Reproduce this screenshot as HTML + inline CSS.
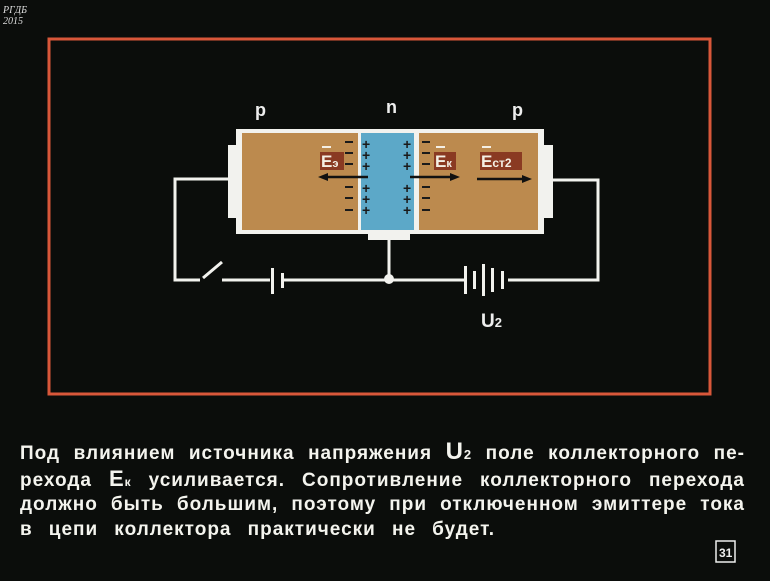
<!DOCTYPE html><html><head><style>
body{margin:0;background:#0b0d0b;width:770px;height:581px;overflow:hidden;position:relative;font-family:"Liberation Sans","DejaVu Sans",sans-serif}
svg{position:absolute;left:0;top:0}
.t{position:absolute;left:20px;width:725px;color:#f4f4ee;font-weight:bold;font-size:19px;letter-spacing:1px;white-space:nowrap;text-align:justify;text-align-last:justify}
</style></head><body>
<svg width="770" height="581">
<rect x="49" y="39" width="661" height="355" fill="none" stroke="#d8573a" stroke-width="3"/>
<text x="3" y="13" fill="#ddd" font-size="10" font-family="Liberation Serif" font-style="italic">РГДБ</text>
<text x="3" y="24" fill="#ddd" font-size="10" font-family="Liberation Serif" font-style="italic">2015</text>
<g fill="#eee" font-size="18" font-weight="bold" font-family="Liberation Sans">
<text x="255" y="116">p</text><text x="386" y="113">n</text><text x="512" y="116">p</text></g>
<g stroke="#f2f2ee" stroke-width="3" fill="none">
<polyline points="228,179 175,179 175,280 200,280"/>
<line x1="203" y1="278" x2="222" y2="262"/>
<line x1="222" y1="280" x2="270" y2="280"/>
<line x1="282" y1="280" x2="465" y2="280"/>
<polyline points="508,280 598,280 598,180 552,180"/>
<line x1="389" y1="240" x2="389" y2="280"/>
</g>
<g fill="#f2f2ee">
<rect x="271" y="268" width="3" height="26"/><rect x="281" y="273" width="3" height="15"/>
<rect x="464" y="266" width="3" height="28"/><rect x="473" y="271" width="3" height="18"/>
<rect x="482" y="264" width="3" height="32"/><rect x="491" y="268" width="3" height="24"/><rect x="501" y="271" width="3" height="18"/>
<circle cx="389" cy="279" r="5"/>
<rect x="228" y="145" width="12" height="73"/><rect x="541" y="145" width="12" height="73"/>
<rect x="368" y="230" width="42" height="10"/>
<rect x="236" y="129" width="308" height="105"/>
</g>
<rect x="242" y="133" width="116" height="97" fill="#bc8a4e"/>
<rect x="361" y="133" width="53" height="97" fill="#5ca8c8"/>
<rect x="419" y="133" width="119" height="97" fill="#bc8a4e"/>
<g fill="#1a1a1a">
<rect x="345" y="141" width="8" height="2"/><rect x="345" y="152" width="8" height="2"/><rect x="345" y="163" width="8" height="2"/><rect x="345" y="186" width="8" height="2"/><rect x="345" y="197" width="8" height="2"/><rect x="345" y="209" width="8" height="2"/>
<rect x="422" y="141" width="8" height="2"/><rect x="422" y="152" width="8" height="2"/><rect x="422" y="163" width="8" height="2"/><rect x="422" y="186" width="8" height="2"/><rect x="422" y="197" width="8" height="2"/><rect x="422" y="209" width="8" height="2"/>
</g>
<g fill="#1a1a1a" font-size="14" font-weight="bold" font-family="Liberation Sans">
<text x="362" y="149">+</text><text x="362" y="160">+</text><text x="362" y="171">+</text><text x="362" y="193">+</text><text x="362" y="204">+</text><text x="362" y="215">+</text>
<text x="403" y="149">+</text><text x="403" y="160">+</text><text x="403" y="171">+</text><text x="403" y="193">+</text><text x="403" y="204">+</text><text x="403" y="215">+</text>
</g>
<g fill="#8a3a22"><rect x="320" y="152" width="24" height="18"/><rect x="434" y="152" width="22" height="18"/><rect x="480" y="152" width="42" height="18"/></g>
<g fill="#f4efe4" font-size="17" font-weight="bold" font-family="Liberation Sans">
<text x="321" y="167">E<tspan font-size="11">э</tspan></text>
<text x="435" y="167">E<tspan font-size="11">к</tspan></text>
<text x="481" y="167">E<tspan font-size="12">ст2</tspan></text>
</g>
<g fill="#f4efe4"><rect x="322" y="146" width="9" height="2"/><rect x="436" y="146" width="9" height="2"/><rect x="482" y="146" width="9" height="2"/></g>
<g stroke="#111" stroke-width="2.5"><line x1="325" y1="177" x2="368" y2="177"/><line x1="410" y1="177" x2="452" y2="177"/><line x1="477" y1="179" x2="525" y2="179"/></g>
<g fill="#111"><polygon points="318,177 328,173 328,181"/><polygon points="460,177 450,173 450,181"/><polygon points="532,179 522,175 522,183"/></g>
<text x="481" y="327" fill="#eee" font-size="19" font-weight="bold">U<tspan font-size="13">2</tspan></text>
<rect x="716" y="541" width="19" height="21" fill="none" stroke="#eee" stroke-width="1.5"/>
<text x="719" y="557" fill="#eee" font-size="12" font-weight="bold">31</text>
</svg>
<div class="t" style="top:438px">Под влиянием источника напряжения <span style="font-size:24px">U</span><span style="font-size:13px">2</span> поле коллекторного пе-</div>
<div class="t" style="top:466px">рехода <span style="font-size:22px">E</span><span style="font-size:12px">к</span> усиливается. Сопротивление коллекторного перехода</div>
<div class="t" style="top:494px">должно быть большим, поэтому при отключенном эмиттере тока</div>
<div class="t" style="top:519px;width:475px">в цепи коллектора практически не будет.</div>
</body></html>
